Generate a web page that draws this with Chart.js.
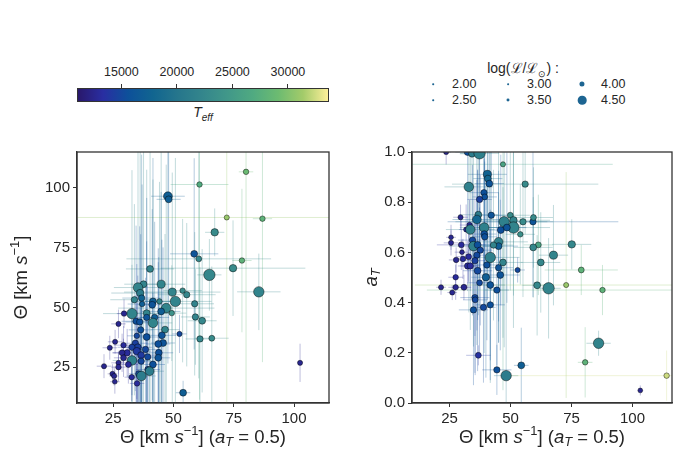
<!DOCTYPE html>
<html>
<head>
<meta charset="utf-8">
<script src="https://cdn.jsdelivr.net/npm/chart.js@4"></script>
<style>
  body { margin: 0; background: #fff; font-family: "Liberation Sans", Arial, sans-serif; color: #262626; }
  #wrap { position: relative; width: 692px; height: 468px; overflow: hidden; }
  canvas { position: absolute; top: 140px; }
  .abs { position: absolute; white-space: nowrap; }
  #cbar { left: 77px; top: 88px; width: 252px; height: 14px; border: 1px solid #333; box-sizing: border-box; }
  .cbtick { width: 1px; height: 4px; background: #333; top: 84px; }
  .cblab { font-size: 12.5px; top: 65px; transform: translateX(-50%); }
  .lgdot { border-radius: 50%; background: #1d6592; transform: translate(-50%, -50%); }
  .lglab { font-size: 12.5px; transform: translateY(-50%); }
</style>
</head>
<body>
<div id="wrap">
  <canvas id="left" width="346" height="328" style="left:0px"></canvas>
  <canvas id="right" width="346" height="328" style="left:346px"></canvas>
</div>
<script>
// colour bar range and ticks
const cbMin = 11000, cbMax = 33700;
const cbTicks = [15000, 20000, 25000, 30000];

// legend sizes
const legendLogL = [2.0, 2.5, 3.0, 3.5, 4.0, 4.5];

// left panel: Theta(aT=0.5) vs Theta
const leftX = [80.1, 60.8, 47.7, 48.0, 72.1, 86.9, 67.1, 58.6, 60.5, 78.4, 74.7, 64.9, 40.3, 85.4, 44.9, 37.6, 35.3, 36.2, 33.8, 36.8,
  37.0, 41.5, 41.2, 44.2, 49.5, 50.8, 53.8, 55.5, 58.8, 47.0, 44.9, 38.9, 42.2, 38.9, 32.8, 29.5, 49.3, 59.1, 61.9, 41.5,
  34.5, 36.0, 27.2, 46.5, 36.4, 45.2, 52.5, 38.9, 34.8, 61.0, 65.9, 45.7, 43.7, 25.8, 23.6, 29.3, 34.2, 35.2, 32.8, 38.4,
  43.9, 30.8, 28.7, 34.8, 36.6, 39.3, 29.3, 32.8, 27.2, 21.2, 27.2, 31.3, 36.6, 41.5, 43.7, 24.7, 25.4, 25.7, 32.7, 35.6,
  36.7, 39.4, 40.1, 34.9, 54.0, 102.5];
const leftY = [106.7, 101.4, 96.5, 95.2, 87.6, 87.1, 81.4, 72.4, 70.3, 69.6, 66.4, 63.6, 66.1, 56.5, 59.7, 59.7, 58.3, 56.0, 53.2, 53.9,
  51.4, 52.5, 51.1, 52.5, 56.4, 52.5, 57.0, 55.3, 51.5, 49.7, 48.3, 47.6, 45.8, 45.8, 47.4, 47.4, 47.6, 46.0, 44.4, 43.5,
  44.2, 43.9, 43.1, 40.7, 40.6, 38.3, 38.9, 37.6, 38.1, 36.8, 37.1, 35.1, 34.7, 35.6, 33.1, 34.2, 35.0, 33.3, 33.3, 32.4,
  31.0, 31.0, 31.0, 31.7, 30.0, 29.3, 28.9, 27.8, 26.8, 25.4, 25.0, 26.1, 27.5, 26.1, 28.9, 22.2, 21.3, 18.9, 20.8, 22.2,
  21.3, 24.0, 23.3, 18.2, 14.3, 26.8];
const leftTeff = [29000, 27000, 17000, 17000, 31000, 28000, 23000, 16000, 22500, 28000, 23000, 22500, 22000, 22000, 22000, 22000, 22000, 21000, 22000, 17500,
  17000, 17000, 16000, 22000, 22000, 22000, 23000, 22500, 22000, 22000, 17000, 22000, 17000, 16000, 22000, 12500, 24000, 22000, 22500, 22000,
  15500, 15500, 12500, 22000, 15500, 16000, 15000, 15500, 15000, 22500, 23000, 16000, 15500, 12500, 12500, 13000, 14500, 14500, 14500, 15000,
  15500, 13000, 12500, 14000, 14000, 15000, 12500, 21500, 12500, 12500, 12500, 13000, 15000, 15500, 16000, 12500, 12500, 12500, 13000, 15000,
  21000, 15000, 21000, 13000, 17000, 12500];
const leftLogL = [3.6, 3.6, 4.2, 3.9, 3.5, 3.6, 4.0, 3.9, 3.7, 3.6, 4.0, 4.5, 3.9, 4.4, 4.1, 3.9, 4.3, 4.0, 3.8, 3.8,
  3.6, 3.9, 3.9, 3.6, 4.1, 4.4, 3.6, 3.8, 3.8, 4.3, 3.9, 3.9, 3.8, 3.8, 4.4, 3.6, 3.6, 3.8, 3.9, 4.3,
  3.8, 3.8, 3.5, 3.9, 3.8, 3.9, 3.5, 3.9, 3.6, 3.8, 3.7, 3.9, 3.9, 3.5, 3.5, 3.6, 3.8, 3.9, 3.8, 3.8,
  3.9, 3.8, 3.7, 4.0, 3.9, 3.8, 3.7, 4.3, 3.5, 3.5, 3.6, 3.7, 3.8, 3.9, 3.9, 3.5, 3.5, 3.4, 3.6, 3.8,
  4.3, 3.8, 4.2, 3.6, 3.9, 3.5];
const leftXErr = [3, 12, 7, 5, 62, 4, 4, 10, 30, 4, 30, 5, 10, 9, 10, 8, 10, 12, 10, 8,
  6, 8, 6, 6, 20, 15, 8, 12, 8, 20, 8, 10, 6, 6, 12, 3, 6, 6, 6, 8,
  6, 6, 3, 6, 5, 6, 3, 5, 4, 6, 7, 5, 5, 3, 3, 4, 5, 6, 6, 6,
  6, 6, 4, 6, 6, 5, 4, 8, 3, 3, 3, 4, 5, 5, 5, 2, 2, 2, 3, 4,
  6, 5, 6, 3, 3, 1];
const leftYErr = [100, 90, 70, 60, 80, 60, 10, 40, 50, 30, 20, 15, 60, 16, 60, 60, 60, 60, 40, 60,
  50, 60, 40, 50, 50, 60, 30, 30, 30, 60, 50, 60, 40, 50, 60, 6, 20, 20, 30, 60,
  40, 40, 6, 40, 40, 40, 8, 40, 30, 30, 30, 40, 40, 5, 5, 8, 20, 30, 20, 30,
  40, 10, 8, 20, 20, 30, 8, 40, 5, 5, 6, 8, 30, 30, 40, 4, 4, 5, 10, 20,
  30, 20, 30, 10, 5, 8];
const leftXTicks = [25, 50, 75, 100];
const leftYTicks = [25, 50, 75, 100];

// right panel: Theta(aT=0.5) vs aT
const rightX = [23.6, 32.4, 34.2, 37.3, 46.9, 40.5, 40.7, 41.3, 32.9, 56.0, 39.1, 39.4, 37.3, 36.8, 42.1, 29.5, 49.9, 47.4, 51.2, 51.2,
  55.1, 59.2, 59.4, 36.2, 33.2, 31.8, 33.5, 39.2, 39.2, 39.4, 34.4, 34.8, 46.0, 48.5, 25.6, 25.6, 29.8, 36.5, 37.6, 36.2,
  45.1, 45.1, 43.0, 54.0, 61.4, 59.3, 75.1, 41.7, 30.1, 30.5, 27.7, 32.8, 32.4, 33.5, 35.4, 40.3, 46.9, 45.1, 62.4, 67.6,
  79.0, 52.9, 36.5, 27.5, 39.9, 45.8, 37.3, 41.7, 21.5, 27.5, 30.9, 26.1, 44.4, 60.9, 65.6, 72.8, 87.7, 35.4, 35.5, 41.7,
  38.9, 34.8, 86.1, 36.8, 80.6, 44.4, 48.2, 54.4, 114.0, 103.2];
const rightY = [1.0, 1.0, 0.993, 0.995, 0.951, 0.911, 0.894, 0.874, 0.861, 0.872, 0.838, 0.821, 0.811, 0.750, 0.748, 0.740, 0.748, 0.722, 0.728, 0.699,
  0.722, 0.722, 0.739, 0.731, 0.709, 0.691, 0.691, 0.699, 0.673, 0.662, 0.649, 0.625, 0.689, 0.699, 0.660, 0.638, 0.630, 0.630, 0.609, 0.589,
  0.642, 0.625, 0.629, 0.672, 0.630, 0.620, 0.632, 0.580, 0.601, 0.574, 0.570, 0.583, 0.546, 0.546, 0.567, 0.550, 0.560, 0.539, 0.560, 0.589,
  0.530, 0.530, 0.527, 0.501, 0.501, 0.510, 0.479, 0.470, 0.461, 0.461, 0.461, 0.440, 0.450, 0.469, 0.457, 0.470, 0.450, 0.420, 0.411, 0.391,
  0.381, 0.371, 0.238, 0.190, 0.162, 0.132, 0.109, 0.150, 0.109, 0.050];
const rightTeff = [12500, 15500, 21000, 21500, 26000, 17500, 18000, 16000, 21500, 23000, 15500, 15500, 14500, 21000, 16000, 12500, 23000, 21500, 22000, 22000,
  23000, 16000, 23000, 18000, 13000, 13000, 21500, 21500, 15500, 15500, 15000, 21500, 15500, 16000, 12500, 12500, 13000, 15500, 15000, 15000,
  21500, 17000, 22000, 23500, 26000, 22500, 22500, 21500, 12500, 13000, 12500, 13000, 13000, 13000, 14500, 15500, 22000, 16000, 22500, 22000,
  28000, 15000, 15000, 13000, 17000, 16000, 15000, 16000, 12500, 12500, 12500, 12500, 15500, 22500, 22000, 31000, 28000, 15000, 15000, 15500,
  15000, 15500, 22000, 13500, 28000, 15500, 21000, 17000, 32500, 12500];
const rightLogL = [3.5, 3.9, 3.9, 4.5, 3.5, 4.1, 3.9, 3.9, 4.3, 3.8, 3.8, 3.7, 3.8, 3.9, 3.8, 3.5, 3.7, 4.4, 4.0, 4.5,
  3.8, 3.8, 3.7, 4.2, 3.6, 3.5, 4.3, 4.3, 3.9, 3.8, 3.8, 4.3, 3.9, 3.9, 3.4, 3.5, 3.7, 3.9, 3.8, 3.8,
  4.2, 3.9, 3.8, 3.6, 3.7, 3.9, 4.0, 4.4, 3.4, 3.6, 3.6, 3.7, 3.8, 3.8, 3.8, 3.8, 3.9, 3.8, 3.9, 4.1,
  3.7, 3.5, 3.9, 3.6, 4.0, 3.9, 3.7, 3.9, 3.5, 3.6, 3.7, 3.5, 3.8, 3.9, 4.5, 3.5, 3.6, 3.8, 3.7, 3.8,
  3.8, 3.8, 4.4, 3.7, 3.6, 3.8, 4.4, 3.9, 3.6, 3.4];
const rightXErr = [2, 5, 5, 8, 45, 8, 6, 6, 10, 30, 6, 5, 5, 8, 6, 3, 8, 20, 15, 15,
  10, 35, 8, 10, 4, 3, 10, 10, 5, 5, 6, 10, 8, 8, 2, 3, 10, 6, 5, 5,
  12, 8, 8, 6, 6, 8, 8, 12, 3, 4, 3, 5, 4, 4, 6, 5, 8, 6, 8, 6,
  15, 3, 6, 3, 6, 8, 5, 6, 2, 3, 3, 2, 5, 6, 5, 62, 72, 6, 5, 6,
  5, 6, 5, 5, 3, 6, 5, 3, 66, 1];
const rightYErr = [0.05, 0.3, 0.4, 0.5, 0.9, 0.5, 0.4, 0.4, 0.5, 0.2, 0.3, 0.3, 0.3, 0.4, 0.3, 0.05, 0.3, 0.5, 0.3, 0.4,
  0.3, 0.3, 0.2, 0.5, 0.1, 0.1, 0.4, 0.5, 0.3, 0.3, 0.3, 0.4, 0.3, 0.3, 0.05, 0.05, 0.1, 0.3, 0.3, 0.3,
  0.4, 0.3, 0.3, 0.2, 0.2, 0.2, 0.1, 0.5, 0.05, 0.08, 0.05, 0.1, 0.1, 0.1, 0.3, 0.3, 0.3, 0.3, 0.2, 0.2,
  0.1, 0.05, 0.4, 0.05, 0.4, 0.3, 0.3, 0.3, 0.03, 0.05, 0.05, 0.03, 0.3, 0.2, 0.2, 0.45, 0.1, 0.3, 0.3, 0.3,
  0.3, 0.3, 0.05, 0.04, 0.14, 0.1, 0.6, 0.15, 0.1, 0.02];
const rightXTicks = [25, 50, 75, 100];
const rightYTicks = [0, 0.2, 0.4, 0.6, 0.8, 1.0];

// cmocean "haline"-like colour map
const haline = [
  [0.0, 41, 24, 107], [0.1, 41, 46, 162], [0.2, 13, 80, 154], [0.3, 17, 101, 144],
  [0.4, 38, 118, 140], [0.5, 52, 134, 140], [0.6, 65, 152, 137], [0.7, 80, 170, 129],
  [0.8, 108, 187, 113], [0.9, 163, 203, 106], [1.0, 253, 239, 154]
];

function cmap(t) {
  let u = Math.min(1, Math.max(0, (t - cbMin) / (cbMax - cbMin)));
  for (let i = 1; i < haline.length; i++) {
    if (u <= haline[i][0]) {
      const a = haline[i - 1], b = haline[i];
      const f = (u - a[0]) / (b[0] - a[0]);
      return [0, 1, 2].map(k => Math.round(a[k + 1] + f * (b[k + 1] - a[k + 1])));
    }
  }
  return haline[haline.length - 1].slice(1);
}
const rgba = (c, a) => `rgba(${c[0]},${c[1]},${c[2]},${a})`;
const radius = logL => 4.8 * Math.pow(1.7, (logL - 4.5) * 2);
const markRadius = logL => radius(logL) + 0.9;   // face plus black edge

const FONT = '"Liberation Sans", Arial, sans-serif';
const INK = '#262626';

// mixed-style text (italic, sub/superscript) drawn on canvas
function richWidth(ctx, segs, size) {
  let w = 0;
  segs.forEach(s => {
    const fs = (s.sub || s.sup) ? size * 0.7 : size;
    ctx.font = (s.it ? 'italic ' : '') + fs + 'px ' + FONT;
    w += ctx.measureText(s.t).width;
  });
  return w;
}
function drawRich(ctx, segs, cx, cy, size) {
  let x = cx - richWidth(ctx, segs, size) / 2;
  ctx.fillStyle = INK;
  ctx.textBaseline = 'middle';
  ctx.textAlign = 'left';
  segs.forEach(s => {
    const fs = (s.sub || s.sup) ? size * 0.7 : size;
    ctx.font = (s.it ? 'italic ' : '') + fs + 'px ' + FONT;
    const dy = s.sup ? -size * 0.35 : s.sub ? size * 0.25 : 0;
    ctx.fillText(s.t, x, cy + dy);
    x += ctx.measureText(s.t).width;
  });
}

const xTitle = [{t: 'Θ [km '}, {t: 's', it: true}, {t: '−1', sup: true}, {t: '] ('}, {t: 'a', it: true},
  {t: 'T', it: true, sub: true}, {t: ' = 0.5)'}];
const leftYTitle = [{t: 'Θ [km '}, {t: 's', it: true}, {t: '−1', sup: true}, {t: ']'}];
const rightYTitle = [{t: 'a', it: true}, {t: 'T', it: true, sub: true}];

function errorPlugin(xs, ys, xe, ye, teff) {
  return {
    id: 'errorBars',
    beforeDatasetsDraw(chart) {
      const {ctx, chartArea: a, scales: {x, y}} = chart;
      ctx.save();
      ctx.beginPath();
      ctx.rect(a.left, a.top, a.right - a.left, a.bottom - a.top);
      ctx.clip();
      ctx.lineWidth = 1;
      xs.forEach((v, i) => {
        const px = x.getPixelForValue(v), py = y.getPixelForValue(ys[i]);
        ctx.strokeStyle = rgba(cmap(teff[i]), 0.3);
        ctx.beginPath();
        ctx.moveTo(x.getPixelForValue(v - xe[i]), py);
        ctx.lineTo(x.getPixelForValue(v + xe[i]), py);
        ctx.moveTo(px, y.getPixelForValue(ys[i] - ye[i]));
        ctx.lineTo(px, y.getPixelForValue(ys[i] + ye[i]));
        ctx.stroke();
      });
      ctx.restore();
    }
  };
}

function framePlugin(yTitle, yTitleX) {
  return {
    id: 'frame',
    afterDraw(chart) {
      const {ctx, chartArea: a} = chart;
      ctx.save();
      ctx.strokeStyle = '#333';
      ctx.lineWidth = 1.3;
      ctx.strokeRect(a.left, a.top, a.right - a.left, a.bottom - a.top);
      drawRich(ctx, xTitle, (a.left + a.right) / 2, a.bottom + 35, 18.5);
      ctx.translate(yTitleX, (a.top + a.bottom) / 2);
      ctx.rotate(-Math.PI / 2);
      drawRich(ctx, yTitle, 0, 0, 18.5);
      ctx.restore();
    }
  };
}

function axis(min, max, ticks, fmt, fit) {
  return {
    type: 'linear', min: min, max: max,
    afterBuildTicks: s => { s.ticks = ticks.map(v => ({value: v})); },
    afterFit: fit,
    ticks: {font: {family: FONT, size: 15}, color: INK, padding: 3, callback: fmt},
    grid: {drawOnChartArea: false, drawTicks: true, tickLength: 4, color: '#333', lineWidth: 1},
    border: {color: '#333', width: 1.3}
  };
}

function makePanel(id, xs, ys, teff, logL, xe, ye, opt) {
  new Chart(document.getElementById(id), {
    type: 'scatter',
    data: {
      datasets: [{
        data: xs.map((v, i) => ({x: v, y: ys[i]})),
        backgroundColor: teff.map(t => rgba(cmap(t), 1)),
        borderColor: 'rgba(0,0,0,0.75)',
        borderWidth: 0.6,
        pointRadius: logL.map(markRadius),
        pointHoverRadius: logL.map(markRadius),
        clip: 0
      }]
    },
    options: {
      responsive: false,
      animation: false,
      events: [],
      layout: {padding: {left: 0, right: opt.padRight, top: 11, bottom: 0}},
      plugins: {legend: {display: false}, tooltip: {enabled: false}},
      scales: {
        x: axis(opt.xMin, opt.xMax, opt.xTicks, v => String(v), s => { s.height = 65; }),
        y: axis(opt.yMin, opt.yMax, opt.yTicks, opt.yFmt, s => { s.width = opt.yWidth; })
      }
    },
    plugins: [errorPlugin(xs, ys, xe, ye, teff), framePlugin(opt.yTitle, opt.yTitleX)]
  });
}

makePanel('left', leftX, leftY, leftTeff, leftLogL, leftXErr, leftYErr, {
  xMin: 10, xMax: 114.5, yMin: 10, yMax: 115, xTicks: leftXTicks, yTicks: leftYTicks,
  yFmt: v => String(v), yWidth: 77, padRight: 17, yTitle: leftYTitle, yTitleX: 22
});
makePanel('right', rightX, rightY, rightTeff, rightLogL, rightXErr, rightYErr, {
  xMin: 9.6, xMax: 116.2, yMin: 0, yMax: 1, xTicks: rightXTicks, yTicks: rightYTicks,
  yFmt: v => v.toFixed(1), yWidth: 66, padRight: 20, yTitle: rightYTitle, yTitleX: 26
});

// colour bar and size legend
const wrap = document.getElementById('wrap');
function el(cls, style, html) {
  const d = document.createElement('div');
  d.className = 'abs ' + cls;
  Object.assign(d.style, style);
  if (html) d.innerHTML = html;
  wrap.appendChild(d);
  return d;
}
const stops = haline.map(s => `rgb(${s[1]},${s[2]},${s[3]}) ${s[0] * 100}%`).join(',');
el('', {}, '').id = 'cbar';
document.getElementById('cbar').style.background = `linear-gradient(to right, ${stops})`;
const cbLeft = 77, cbWidth = 252;
cbTicks.forEach(t => {
  const px = cbLeft + (t - cbMin) / (cbMax - cbMin) * cbWidth;
  el('cbtick', {left: (px - 0.5) + 'px'});
  el('cblab', {left: px + 'px'}, String(t));
});
el('', {left: '203px', top: '104px', fontSize: '14px', transform: 'translateX(-50%)', fontStyle: 'italic'},
  'T<sub style="font-size:10px">eff</sub>');

el('', {left: '523px', top: '58px', fontSize: '14px', transform: 'translateX(-50%)'},
  'log(ℒ/ℒ<sub style="font-size:9px">⊙</sub>) :');
const colX = [433, 508, 582], rowY = [84, 100];
legendLogL.forEach((L, i) => {
  const cx = colX[Math.floor(i / 2)], cy = rowY[i % 2];
  const d = Math.max(1.6, 1.8 * radius(L));
  el('lgdot', {left: cx + 'px', top: cy + 'px', width: d + 'px', height: d + 'px'});
  el('lglab', {left: (cx + 19) + 'px', top: cy + 'px'}, L.toFixed(2));
});
</script>
</body>
</html>
